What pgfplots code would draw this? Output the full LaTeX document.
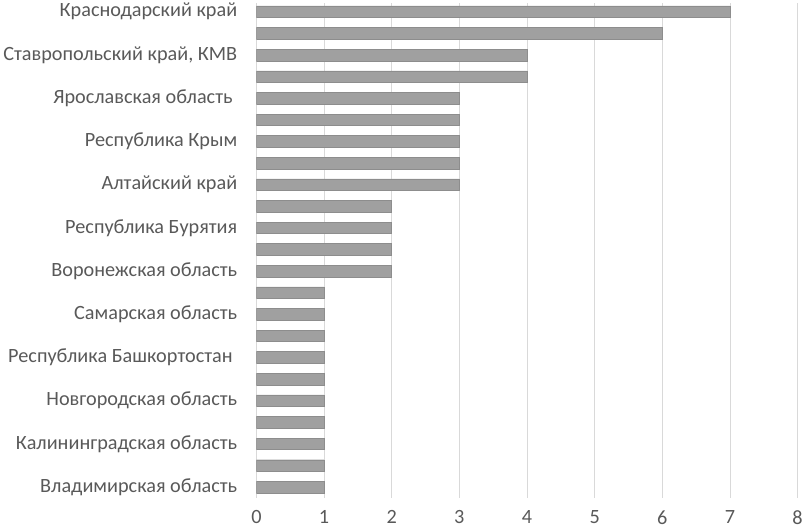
\documentclass[border=0pt]{standalone}
\usepackage{fontspec}
\setmainfont{Carlito}
\usepackage{pgfplots}
\pgfplotsset{compat=1.18}
\definecolor{gridgray}{HTML}{D9D9D9}
\definecolor{bargray}{HTML}{A0A0A0}
\definecolor{labelgray}{HTML}{595959}

\begin{document}
\begin{tikzpicture}
\begin{axis}[
    xbar,
    y dir=reverse,
    scale only axis,
    width=551pt,
    height=503.5pt,
    xmin=0, xmax=8,
    ymin=0.61, ymax=23.5,
    xtick={0,1,...,8},
    ytick={1,3,...,23},
    yticklabels={Краснодарский край, {Ставропольский край, КМВ}, Ярославская область\ \ , Республика Крым, Алтайский край, Республика Бурятия, Воронежская область, Самарская область, Республика Башкортостан\ \ , Новгородская область, Калининградская область, Владимирская область},
    axis line style={draw=none},
    major tick length=0pt,
    xmajorgrids,
    grid style={gridgray, line width=0.8pt},
    bar width=11.8pt,
    tick label style={font=\fontsize{20.6}{22}\selectfont, text=labelgray},
    /pgf/number format/assume math mode=true,
    yticklabel style={xshift=-16pt},
    xticklabel style={yshift=-9.5pt},
]
\addplot[fill=bargray, draw=bargray!88!black, line width=0.4pt] coordinates {
    (7,1) (6,2) (4,3) (4,4) (3,5) (3,6) (3,7) (3,8) (3,9)
    (2,10) (2,11) (2,12) (2,13)
    (1,14) (1,15) (1,16) (1,17) (1,18) (1,19) (1,20) (1,21) (1,22) (1,23)
};
\end{axis}
\end{tikzpicture}
\end{document}
